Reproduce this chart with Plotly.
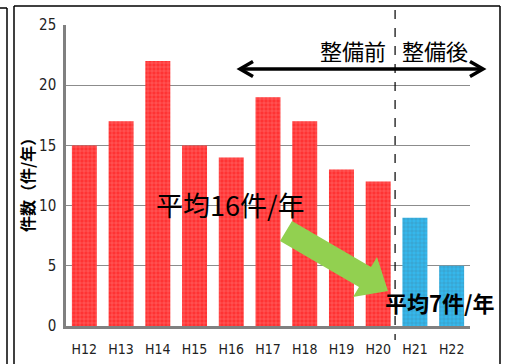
import plotly.graph_objects as go

categories = ["H12", "H13", "H14", "H15", "H16", "H17", "H18", "H19", "H20", "H21", "H22"]
counts = [15, 17, 22, 15, 14, 19, 17, 13, 12, 9, 5]
period = ["before"] * 9 + ["after"] * 2
y_ticks = [0, 5, 10, 15, 20, 25]

W, H = 506, 364
L, R, T, B = 66, 470, 25, 326  # plot area in pixels


def px(x):
    return (x - L) / (R - L)


def py(y):
    return (B - y) / (B - T)


colors = ["#FF3333" if p == "before" else "#35B7EC" for p in period]
pattern_fg = ["#E01818" if p == "before" else "#1E9FD6" for p in period]

fig = go.Figure()
fig.add_trace(go.Bar(
    x=categories, y=counts,
    marker=dict(color=colors, line=dict(width=0),
                pattern=dict(shape="+", fgcolor=pattern_fg, size=4, solidity=0.15)),
    width=0.68,
))

num_font = "Liberation Sans Narrow, DejaVu Sans Condensed, Arial Narrow, sans-serif"
jp_font = "Noto Sans CJK JP"

shapes = []
# outer frame
shapes.append(dict(type="line", xref="paper", yref="paper", x0=px(14), x1=px(14), y0=py(6), y1=py(370),
                   line=dict(color="black", width=1.5)))
shapes.append(dict(type="line", xref="paper", yref="paper", x0=px(14), x1=px(500), y0=py(6), y1=py(6),
                   line=dict(color="black", width=1.5)))
shapes.append(dict(type="line", xref="paper", yref="paper", x0=px(500), x1=px(500), y0=py(6), y1=py(370),
                   line=dict(color="black", width=1.5)))
# left neighbouring panel edge
shapes.append(dict(type="line", xref="paper", yref="paper", x0=px(7), x1=px(7), y0=py(8), y1=py(370),
                   line=dict(color="black", width=1.5)))
shapes.append(dict(type="line", xref="paper", yref="paper", x0=px(-2), x1=px(7), y0=py(8), y1=py(8),
                   line=dict(color="black", width=1.5)))
# dashed divider
shapes.append(dict(type="line", xref="x", yref="paper", x0=8.46, x1=8.46, y0=py(10), y1=py(340),
                   line=dict(color="black", width=1.2, dash="dash")))
# double arrow
shapes.append(dict(type="line", xref="paper", yref="paper", x0=px(242), x1=px(482), y0=py(69), y1=py(69),
                   line=dict(color="black", width=3.5)))
shapes.append(dict(type="path", xref="paper", yref="paper",
                   path=f"M {px(253)},{py(61.5)} L {px(240)},{py(69)} L {px(253)},{py(76.5)}",
                   line=dict(color="black", width=3.5)))
shapes.append(dict(type="path", xref="paper", yref="paper",
                   path=f"M {px(470)},{py(61.5)} L {px(483)},{py(69)} L {px(470)},{py(76.5)}",
                   line=dict(color="black", width=3.5)))
# green arrow
pts = [(292, 221), (371, 267), (377, 257), (388, 291), (353, 297), (359, 287), (280, 241)]
path = "M " + " L ".join(f"{px(a)},{py(b)}" for a, b in pts) + " Z"
shapes.append(dict(type="path", xref="paper", yref="paper", path=path,
                   fillcolor="#92D050", line=dict(width=0)))

annotations = [
    dict(text="整備前", xref="paper", yref="paper", x=px(353), y=py(50), showarrow=False,
         font=dict(family=jp_font, size=22, color="black"), xanchor="center", yanchor="middle"),
    dict(text="整備後", xref="paper", yref="paper", x=px(435), y=py(50), showarrow=False,
         font=dict(family=jp_font, size=22, color="black"), xanchor="center", yanchor="middle"),
    dict(text="平均16件/年", xref="paper", yref="paper", x=px(154), y=py(205), showarrow=False,
         font=dict(family=jp_font, size=27, color="black"), xanchor="left", yanchor="middle"),
    dict(text="<b>平均7件/年</b>", xref="paper", yref="paper", x=px(383), y=py(302), showarrow=False,
         font=dict(family=jp_font, size=22, color="black"), xanchor="left", yanchor="middle"),
    dict(text="<b>件数（件/年）</b>", xref="paper", yref="paper", x=px(27), y=py(181), showarrow=False,
         textangle=-90, font=dict(family=jp_font, size=16, color="black"),
         xanchor="center", yanchor="middle"),
]

fig.update_layout(
    width=W, height=H,
    margin=dict(l=L, r=W - R, t=T, b=H - B, pad=0),
    paper_bgcolor="white", plot_bgcolor="white",
    showlegend=False,
    bargap=0.32,
    shapes=shapes,
    annotations=annotations,
    xaxis=dict(showline=True, linecolor="#808080", linewidth=2.5, ticks="", showgrid=False,
               automargin=False,
               tickfont=dict(family=num_font, size=14, color="#222"), ticklabelstandoff=8),
    yaxis=dict(range=[0, 25], tickvals=y_ticks, showline=True, linecolor="#808080", linewidth=2.5,
               automargin=False,
               showgrid=True, gridcolor="#8C8C8C", gridwidth=1.3, zeroline=False, ticks="",
               tickfont=dict(family=num_font, size=15, color="#222"), ticklabelstandoff=4),
)

fig.write_html("out.html")
